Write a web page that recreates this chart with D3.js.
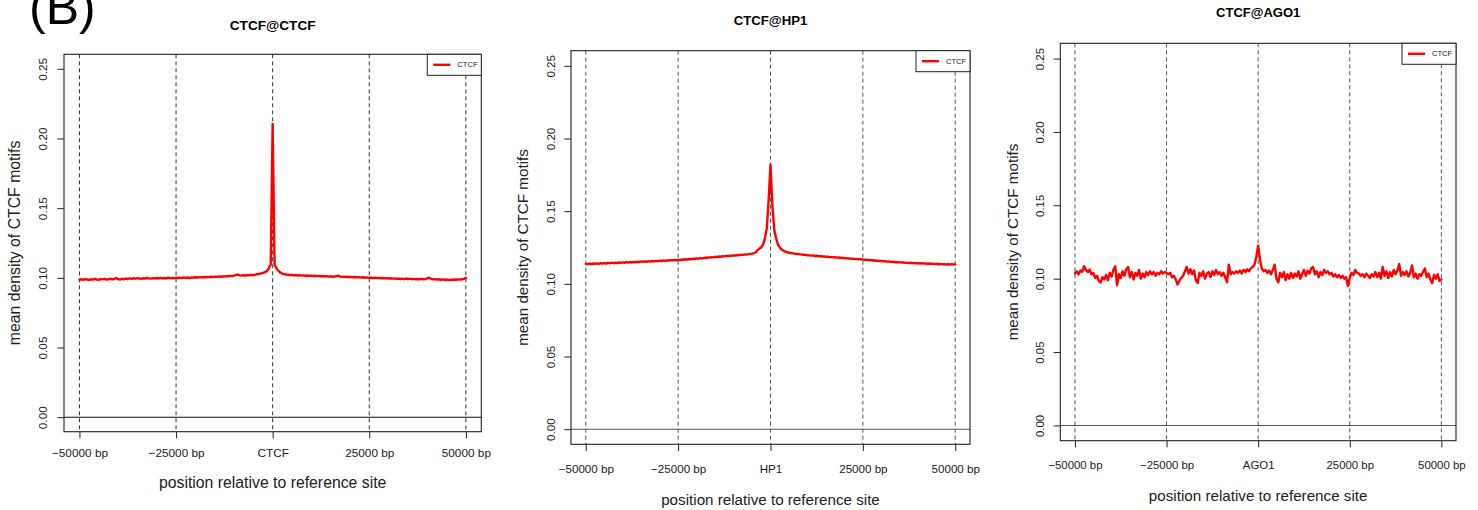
<!DOCTYPE html>
<html>
<head>
<meta charset="utf-8">
<script src="https://cdn.jsdelivr.net/npm/d3@7"></script>
<style>
  html, body { margin: 0; padding: 0; background: #fff; }
  svg { display: block; font-family: "Liberation Sans", Arial, Helvetica, sans-serif; }
</style>
</head>
<body>
<svg id="chart" width="1478" height="510"></svg>
<script>
// ---------------- DATA ----------------
const panelLabel = "(B)";
const titles = ["CTCF@CTCF", "CTCF@HP1", "CTCF@AGO1"];
const centerLabels = ["CTCF", "HP1", "AGO1"];
const legendLabel = "CTCF";
const xAxisTitle = "position relative to reference site";
const yAxisTitle = "mean density of CTCF motifs";
const xTickValues = [-50000, -25000, 0, 25000, 50000];
const yTickValues = [0, 0.05, 0.10, 0.15, 0.20, 0.25];
const yTickLabels = ["0.00", "0.05", "0.10", "0.15", "0.20", "0.25"];
// bin positions (bp relative to reference site), 500 bp bins
const positions = d3.range(-50000, 50001, 500);

const ctcfAtCtcf = [
  0.0985,0.0990,0.0986,0.0991,0.0988,0.0984,0.0990,0.0987,0.0992,0.0988,
  0.0986,0.0991,0.0989,0.0993,0.0988,0.0990,0.0994,0.0989,0.0992,0.0999,
  0.0991,0.0988,0.0993,0.0990,0.0995,0.0992,0.0996,0.0993,0.0997,0.0994,
  0.0998,0.0995,0.0993,0.0997,0.0995,0.0999,0.0996,0.0994,0.0998,0.0996,
  0.0999,0.0997,0.1000,0.0996,0.0999,0.0997,0.1001,0.0998,0.1000,0.0997,
  0.1002,0.0999,0.1001,0.0998,0.1003,0.1000,0.1002,0.0999,0.1003,0.1001,
  0.1004,0.1002,0.1005,0.1003,0.1006,0.1004,0.1007,0.1005,0.1008,0.1006,
  0.1009,0.1007,0.1010,0.1008,0.1011,0.1009,0.1013,0.1011,0.1014,0.1012,
  0.1016,0.1020,0.1024,0.1018,0.1016,0.1019,0.1017,0.1020,0.1018,0.1021,
  0.1020,0.1023,0.1026,0.1028,0.1032,0.1036,0.1040,0.1048,0.1068,0.1095,
  0.2105,0.1092,0.1068,0.1050,0.1038,0.1030,0.1027,0.1024,0.1022,0.1020,
  0.1021,0.1018,0.1020,0.1017,0.1019,0.1016,0.1018,0.1015,0.1017,0.1014,
  0.1016,0.1013,0.1015,0.1012,0.1014,0.1011,0.1013,0.1010,0.1012,0.1009,
  0.1011,0.1008,0.1010,0.1012,0.1016,0.1009,0.1007,0.1009,0.1006,0.1008,
  0.1005,0.1007,0.1004,0.1006,0.1003,0.1005,0.1002,0.1004,0.1001,0.1003,
  0.1000,0.1002,0.0999,0.1001,0.0998,0.1000,0.0997,0.0999,0.0996,0.0998,
  0.0995,0.0997,0.0994,0.0996,0.0993,0.0995,0.0992,0.0994,0.0991,0.0995,
  0.0992,0.0994,0.0991,0.0993,0.0990,0.0992,0.0989,0.0993,0.0990,0.0992,
  0.0996,0.1001,0.0993,0.0989,0.0991,0.0987,0.0990,0.0986,0.0989,0.0985,
  0.0988,0.0984,0.0987,0.0985,0.0988,0.0986,0.0989,0.0987,0.0990,0.0993,
  0.1000
];

const ctcfAtHp1 = [
  0.1137,0.1135,0.1139,0.1136,0.1140,0.1138,0.1141,0.1137,0.1142,0.1139,
  0.1143,0.1140,0.1144,0.1141,0.1146,0.1142,0.1145,0.1143,0.1147,0.1144,
  0.1148,0.1145,0.1149,0.1146,0.1150,0.1147,0.1151,0.1149,0.1152,0.1150,
  0.1154,0.1151,0.1155,0.1152,0.1156,0.1153,0.1157,0.1155,0.1158,0.1156,
  0.1160,0.1157,0.1161,0.1158,0.1162,0.1160,0.1163,0.1161,0.1165,0.1162,
  0.1165,0.1164,0.1167,0.1166,0.1169,0.1167,0.1171,0.1169,0.1173,0.1171,
  0.1175,0.1173,0.1177,0.1175,0.1179,0.1178,0.1181,0.1180,0.1184,0.1182,
  0.1186,0.1184,0.1188,0.1186,0.1190,0.1189,0.1192,0.1191,0.1194,0.1193,
  0.1196,0.1195,0.1198,0.1197,0.1200,0.1199,0.1202,0.1201,0.1204,0.1206,
  0.1208,0.1211,0.1216,0.1232,0.1242,0.1252,0.1270,0.1315,0.1380,0.1580,
  0.1820,0.1540,0.1375,0.1315,0.1272,0.1250,0.1236,0.1228,0.1222,0.1218,
  0.1214,0.1212,0.1210,0.1208,0.1206,0.1205,0.1203,0.1201,0.1200,0.1199,
  0.1197,0.1196,0.1194,0.1195,0.1192,0.1193,0.1190,0.1191,0.1188,0.1189,
  0.1186,0.1187,0.1184,0.1185,0.1182,0.1183,0.1180,0.1181,0.1178,0.1179,
  0.1176,0.1177,0.1174,0.1175,0.1172,0.1173,0.1170,0.1171,0.1168,0.1169,
  0.1167,0.1165,0.1166,0.1163,0.1164,0.1161,0.1162,0.1159,0.1160,0.1157,
  0.1158,0.1155,0.1156,0.1153,0.1154,0.1151,0.1152,0.1149,0.1150,0.1148,
  0.1149,0.1146,0.1147,0.1144,0.1146,0.1143,0.1145,0.1142,0.1144,0.1141,
  0.1143,0.1140,0.1142,0.1139,0.1141,0.1138,0.1140,0.1137,0.1139,0.1136,
  0.1138,0.1135,0.1137,0.1134,0.1136,0.1133,0.1135,0.1132,0.1136,0.1133,
  0.1134
];

const ctcfAtAgo1 = [
  0.1035,0.1050,0.1030,0.1055,0.1048,0.1085,0.1060,0.1045,0.1062,0.1030,
  0.1040,0.1005,0.1020,0.0985,0.0975,0.1010,0.0995,0.1025,0.0990,0.1040,
  0.1015,0.1060,0.1085,0.0955,0.1030,0.1005,0.1050,0.1020,0.1065,0.1080,
  0.1010,0.1045,0.0995,0.1040,0.1020,0.1060,0.1000,0.1035,0.1010,0.1045,
  0.1025,0.1050,0.1030,0.1045,0.1020,0.1040,0.1030,0.1050,0.1035,0.1045,
  0.1040,0.1030,0.1040,0.1010,0.1020,0.0995,0.0960,0.0985,0.1005,0.1020,
  0.1050,0.1080,0.1035,0.1065,0.1030,0.1055,0.0990,0.0970,0.1040,0.1020,
  0.1050,0.1000,0.1035,0.1045,0.1010,0.1050,0.1025,0.1060,0.1030,0.1045,
  0.1020,0.1040,0.1010,0.0975,0.1095,0.1030,0.1045,0.1035,0.1050,0.1040,
  0.1055,0.1035,0.1060,0.1045,0.1065,0.1050,0.1070,0.1080,0.1095,0.1150,
  0.1225,0.1130,0.1070,0.1050,0.1060,0.1040,0.1055,0.1030,0.1060,0.1095,
  0.1000,0.0975,0.1040,0.1010,0.1045,0.0990,0.1030,0.1000,0.1040,0.1005,
  0.1035,0.1015,0.1050,0.1000,0.1030,0.1060,0.1020,0.1055,0.1035,0.1070,
  0.1080,0.1030,0.1050,0.1010,0.1045,0.1025,0.1060,0.1040,0.1050,0.1030,
  0.1040,0.1015,0.1030,0.1010,0.1025,0.1005,0.1020,0.1000,0.1010,0.0950,
  0.1005,0.1040,0.1025,0.1060,0.1040,0.1035,0.1020,0.1030,0.1010,0.1035,
  0.1020,0.1005,0.1030,0.1015,0.1045,0.1010,0.1040,0.1000,0.1080,0.1020,
  0.1050,0.1005,0.1045,0.1015,0.1060,0.1030,0.1055,0.1100,0.1020,0.1045,
  0.1025,0.1050,0.1015,0.1040,0.1090,0.1010,0.1035,0.1000,0.1030,0.1020,
  0.1045,0.1070,0.1010,0.1035,0.0995,0.0970,0.1025,0.1000,0.1030,0.0985,
  0.0995
];

const seriesList = [ctcfAtCtcf, ctcfAtHp1, ctcfAtAgo1];

// ---------------- LAYOUT (positions / styles) ----------------
const layouts = [
  { L: 64,     T: 54.3, R: 481.3, B: 431.7, titleY: 25,   titleSize: 13.6, tickSize: 11.8, labSize: 15.8,
    xTickLabY: 21.6, xLabY: 51, yTickLabX: 21.3, yLabX: 14,   dash: "#333", zero: "#111" },
  { L: 571,    T: 50.7, R: 970,   B: 444.3, titleY: 20,   titleSize: 13.2, tickSize: 11.6, labSize: 15.2,
    xTickLabY: 24,   xLabY: 55, yTickLabX: 20.3, yLabX: 522,  dash: "#555", zero: "#555" },
  { L: 1060.3, T: 43.3, R: 1456,  B: 440.7, titleY: 12.7, titleSize: 13.0, tickSize: 11.4, labSize: 15.2,
    xTickLabY: 24.3, xLabY: 54.3, yTickLabX: 20.3, yLabX: 1012, dash: "#555", zero: "#555" }
];

const svg = d3.select("#chart");

// panel label
svg.append("text")
  .attr("x", 29).attr("y", 24)
  .attr("font-size", 50)
  .attr("fill", "#000")
  .text(panelLabel);

const fmtX = (center) => (d) => d === 0 ? center : (d < 0 ? "\u2212" + Math.abs(d) : String(d)) + " bp";

layouts.forEach((lay, p) => {
  const values = seriesList[p];
  const data = positions.map((x, i) => ({ x, y: values[i] })).filter(d => d.y !== undefined);

  const x = d3.scaleLinear().domain([-54000, 54000]).range([lay.L, lay.R]);
  const y = d3.scaleLinear().domain([-0.0104, 0.2604]).range([lay.B, lay.T]);

  const g = svg.append("g");

  // dashed vertical reference lines
  g.selectAll(".vline").data(xTickValues).enter().append("line")
    .attr("x1", d => x(d)).attr("x2", d => x(d))
    .attr("y1", lay.T).attr("y2", lay.B)
    .attr("stroke", lay.dash).attr("stroke-width", 1)
    .attr("stroke-dasharray", "4,3");

  // zero line
  g.append("line")
    .attr("x1", lay.L).attr("x2", lay.R)
    .attr("y1", y(0)).attr("y2", y(0))
    .attr("stroke", lay.zero).attr("stroke-width", 1.1);

  // series line
  const line = d3.line().x(d => x(d.x)).y(d => y(d.y));
  g.append("path")
    .datum(data)
    .attr("d", line)
    .attr("fill", "none")
    .attr("stroke", "#ff0000")
    .attr("stroke-width", 2.4)
    .attr("stroke-linejoin", "round")
    .attr("stroke-linecap", "round");

  // box
  g.append("rect")
    .attr("x", lay.L).attr("y", lay.T)
    .attr("width", lay.R - lay.L).attr("height", lay.B - lay.T)
    .attr("fill", "none").attr("stroke", "#222").attr("stroke-width", 1.1);

  // x axis
  const xAxis = d3.axisBottom(x).tickValues(xTickValues).tickFormat(fmtX(centerLabels[p]))
    .tickSize(6.7).tickSizeOuter(0);
  const gx = g.append("g").attr("transform", `translate(0,${lay.B})`).call(xAxis);
  gx.select(".domain").remove();
  gx.selectAll(".tick line").attr("stroke", "#222").attr("stroke-width", 1);
  gx.selectAll(".tick text")
    .attr("y", lay.xTickLabY).attr("dy", null)
    .attr("dominant-baseline", "central")
    .attr("font-size", lay.tickSize)
    .attr("font-family", "Liberation Sans, Arial, sans-serif")
    .attr("fill", "#222");

  // y axis
  const yAxis = d3.axisLeft(y).tickValues(yTickValues)
    .tickFormat((d, i) => yTickLabels[i]).tickSize(6.7).tickSizeOuter(0);
  const gy = g.append("g").attr("transform", `translate(${lay.L},0)`).call(yAxis);
  gy.select(".domain").remove();
  gy.selectAll(".tick line").attr("stroke", "#222").attr("stroke-width", 1);
  gy.selectAll(".tick text")
    .attr("x", null).attr("dy", null)
    .attr("transform", `translate(${-lay.yTickLabX},0) rotate(-90)`)
    .attr("text-anchor", "middle")
    .attr("dominant-baseline", "central")
    .attr("font-size", lay.tickSize)
    .attr("font-family", "Liberation Sans, Arial, sans-serif")
    .attr("fill", "#222");

  // title
  svg.append("text")
    .attr("x", (lay.L + lay.R) / 2).attr("y", lay.titleY)
    .attr("text-anchor", "middle").attr("dominant-baseline", "central")
    .attr("font-weight", "bold").attr("font-size", lay.titleSize)
    .attr("fill", "#000")
    .text(titles[p]);

  // x axis title
  svg.append("text")
    .attr("x", (lay.L + lay.R) / 2).attr("y", lay.B + lay.xLabY)
    .attr("text-anchor", "middle").attr("dominant-baseline", "central")
    .attr("font-size", lay.labSize).attr("fill", "#222")
    .text(xAxisTitle);

  // y axis title
  svg.append("text")
    .attr("transform", `translate(${lay.yLabX},${(lay.T + lay.B) / 2}) rotate(-90)`)
    .attr("text-anchor", "middle").attr("dominant-baseline", "central")
    .attr("font-size", lay.labSize).attr("fill", "#222")
    .text(yAxisTitle);

  // legend
  const lw = 54, lh = 21;
  const lg = g.append("g").attr("transform", `translate(${lay.R - lw},${lay.T})`);
  lg.append("rect").attr("width", lw).attr("height", lh)
    .attr("fill", "#fff").attr("stroke", "#222").attr("stroke-width", 1);
  lg.append("line").attr("x1", 6).attr("x2", 23).attr("y1", lh / 2).attr("y2", lh / 2)
    .attr("stroke", "#ff0000").attr("stroke-width", 2.4);
  lg.append("text").attr("x", 30).attr("y", lh / 2)
    .attr("dominant-baseline", "central")
    .attr("font-size", 7.6).attr("fill", "#222")
    .text(legendLabel);
});
</script>
</body>
</html>
